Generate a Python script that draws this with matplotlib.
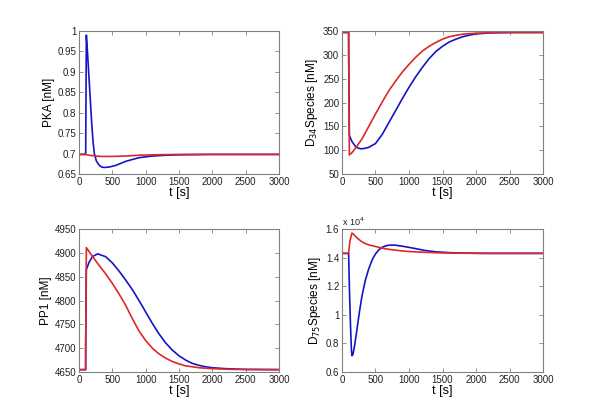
import matplotlib
matplotlib.use("Agg")
import matplotlib.pyplot as plt

plt.rcParams['font.family'] = ['Liberation Sans', 'DejaVu Sans']

# ---------------- data ----------------
# PKA
pka_blue_t = [0, 99, 100, 110, 130, 150, 170, 190, 210, 230, 260, 300, 340, 380, 450, 550, 700, 900, 1100, 1300, 1500, 2000, 3000]
pka_blue_v = [0.698, 0.698, 0.70, 0.99, 0.94, 0.885, 0.83, 0.775, 0.73, 0.70, 0.682, 0.672, 0.667, 0.666, 0.667, 0.671, 0.681, 0.690, 0.694, 0.696, 0.697, 0.698, 0.698]
pka_red_t = [0, 100, 150, 250, 350, 500, 700, 900, 1100, 1500, 3000]
pka_red_v = [0.698, 0.698, 0.696, 0.694, 0.693, 0.693, 0.694, 0.696, 0.697, 0.698, 0.698]

# D34 species
d34_blue_t = [0, 99, 100, 110, 130, 150, 200, 240, 280, 330, 400, 500, 600, 700, 800, 900, 1000, 1100, 1200, 1300, 1400, 1500, 1600, 1700, 1800, 1900, 2000, 2200, 2500, 3000]
d34_blue_v = [347, 347, 300, 132, 124, 118, 108, 104.5, 103, 103.5, 106, 114, 133, 158, 183, 208, 232, 254, 274, 292, 307, 318, 327, 333, 338, 341.5, 344, 346, 347, 347]
d34_red_t = [0, 99, 100, 110, 150, 200, 300, 400, 500, 600, 700, 800, 900, 1000, 1100, 1200, 1300, 1400, 1500, 1600, 1700, 1800, 2000, 2300, 2600, 3000]
d34_red_v = [347, 347, 300, 90, 95, 104, 124, 150, 176, 201, 225, 245, 264, 280, 295, 308, 318, 326, 333, 338, 341, 343.5, 345.5, 347, 347, 347]

# PP1
pp1_blue_t = [0, 99, 100, 110, 150, 200, 280, 400, 500, 600, 700, 800, 900, 1000, 1100, 1200, 1300, 1400, 1500, 1600, 1700, 1800, 1900, 2000, 2200, 2500, 3000]
pp1_blue_v = [4655, 4655, 4700, 4865, 4880, 4892, 4898, 4892, 4879, 4862, 4843, 4823, 4800, 4776, 4752, 4730, 4711, 4696, 4684, 4675, 4668, 4664, 4661, 4659, 4657, 4655.5, 4655]
pp1_red_t = [0, 99, 100, 110, 200, 300, 400, 500, 600, 700, 800, 900, 1000, 1100, 1200, 1300, 1400, 1500, 1600, 1800, 2000, 2300, 3000]
pp1_red_v = [4655, 4655, 4700, 4911, 4893, 4874, 4856, 4836, 4814, 4790, 4762, 4736, 4716, 4700, 4688, 4679, 4672, 4667, 4663, 4659, 4657, 4655.5, 4655]

# D75 species (x 10^4)
d75_blue_t = [0, 99, 100, 110, 125, 140, 149, 165, 190, 224, 260, 299, 350, 398, 450, 498, 550, 597, 650, 700, 746, 800, 900, 1000, 1100, 1244, 1400, 1600, 1800, 2200, 3000]
d75_blue_v = [1.43, 1.43, 1.40, 1.20, 0.95, 0.76, 0.714, 0.725, 0.79, 0.90, 1.02, 1.134, 1.245, 1.32, 1.385, 1.425, 1.455, 1.472, 1.482, 1.487, 1.488, 1.487, 1.480, 1.472, 1.463, 1.450, 1.441, 1.435, 1.432, 1.430, 1.430]
d75_red_t = [0, 99, 100, 120, 149, 175, 200, 250, 299, 350, 400, 500, 600, 700, 800, 900, 1000, 1200, 1500, 2000, 3000]
d75_red_v = [1.43, 1.43, 1.44, 1.52, 1.572, 1.563, 1.550, 1.528, 1.510, 1.498, 1.489, 1.478, 1.467, 1.458, 1.452, 1.447, 1.443, 1.438, 1.433, 1.430, 1.430]

xticks = [0, 500, 1000, 1500, 2000, 2500, 3000]
pka_ticks = [0.65, 0.7, 0.75, 0.8, 0.85, 0.9, 0.95, 1]
pka_labels = ['0.65', '0.7', '0.75', '0.8', '0.85', '0.9', '0.95', '1']
d34_ticks = [50, 100, 150, 200, 250, 300, 350]
pp1_ticks = [4650, 4700, 4750, 4800, 4850, 4900, 4950]
d75_ticks = [0.6, 0.8, 1.0, 1.2, 1.4, 1.6]
d75_labels = ['0.6', '0.8', '1', '1.2', '1.4', '1.6']

BLUE = '#1414c8'
RED = '#dc2828'
SPINE = '#808080'

fig = plt.figure(figsize=(6.0, 4.18), dpi=100)

def make_ax(rect, ylim, yticks, ylabels, ylabel):
    ax = fig.add_axes(rect)
    ax.set_xlim(0, 3000)
    ax.set_ylim(*ylim)
    ax.set_xticks(xticks)
    ax.set_xticklabels([str(x) for x in xticks])
    ax.set_yticks(yticks)
    ax.set_yticklabels(ylabels)
    ax.tick_params(direction='in', length=3, width=0.6, color=SPINE,
                   labelsize=7, labelcolor='#222222', top=True, right=True, pad=2)
    for s in ax.spines.values():
        s.set_color(SPINE)
        s.set_linewidth(0.8)
    ax.set_xlabel('t [s]', fontsize=9, labelpad=0)
    ax.set_ylabel(ylabel, fontsize=8.5, labelpad=2)
    return ax

lw = 1.2
ax1 = make_ax([0.1317, 0.5837, 0.3333, 0.342], (0.65, 1.0), pka_ticks, pka_labels, 'PKA [nM]')
ax1.plot(pka_blue_t, pka_blue_v, color=BLUE, lw=lw)
ax1.plot(pka_red_t, pka_red_v, color=RED, lw=lw)

ax2 = make_ax([0.57, 0.5837, 0.335, 0.342], (50, 350), d34_ticks, [str(v) for v in d34_ticks], 'D$_{34}$Species [nM]')
ax2.plot(d34_blue_t, d34_blue_v, color=BLUE, lw=lw)
ax2.plot(d34_red_t, d34_red_v, color=RED, lw=lw)

ax3 = make_ax([0.1317, 0.110, 0.3333, 0.342], (4650, 4950), pp1_ticks, [str(v) for v in pp1_ticks], 'PP1 [nM]')
ax3.plot(pp1_blue_t, pp1_blue_v, color=BLUE, lw=lw)
ax3.plot(pp1_red_t, pp1_red_v, color=RED, lw=lw)

ax4 = make_ax([0.57, 0.110, 0.335, 0.342], (0.6, 1.6), d75_ticks, d75_labels, 'D$_{75}$Species [nM]')
ax4.plot(d75_blue_t, d75_blue_v, color=BLUE, lw=lw)
ax4.plot(d75_red_t, d75_red_v, color=RED, lw=lw)
ax4.text(0.0, 1.01, 'x 10$^4$', transform=ax4.transAxes, fontsize=6.5, color='#222222', ha='left', va='bottom')

fig.savefig('out.png', dpi=100)
